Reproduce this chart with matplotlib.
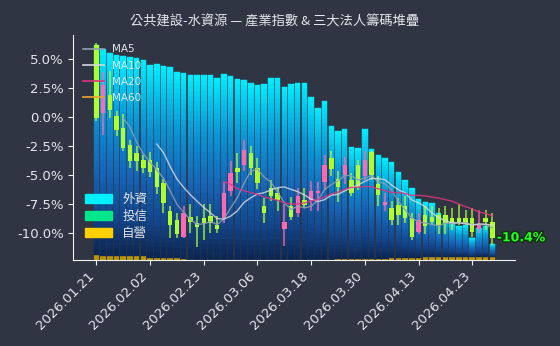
import numpy as np
import pandas as pd
import matplotlib
matplotlib.use("Agg")
import matplotlib.pyplot as plt
from matplotlib.colors import LinearSegmentedColormap
from matplotlib.patches import Patch
from matplotlib.lines import Line2D
import matplotlib.patheffects as pe

# ---- data -------------------------------------------------------------
dates = [
    "2026.01.21", "2026.01.22", "2026.01.23", "2026.01.26", "2026.01.27",
    "2026.01.28", "2026.01.29", "2026.01.30", "2026.02.02", "2026.02.03",
    "2026.02.04", "2026.02.05", "2026.02.06", "2026.02.09", "2026.02.10",
    "2026.02.11", "2026.02.23", "2026.02.24", "2026.02.25", "2026.02.26",
    "2026.03.02", "2026.03.03", "2026.03.04", "2026.03.05", "2026.03.06",
    "2026.03.09", "2026.03.10", "2026.03.11", "2026.03.12", "2026.03.13",
    "2026.03.16", "2026.03.17", "2026.03.18", "2026.03.19", "2026.03.20",
    "2026.03.23", "2026.03.24", "2026.03.25", "2026.03.26", "2026.03.27",
    "2026.03.30", "2026.03.31", "2026.04.01", "2026.04.02", "2026.04.07",
    "2026.04.08", "2026.04.09", "2026.04.10", "2026.04.13", "2026.04.14",
    "2026.04.15", "2026.04.16", "2026.04.17", "2026.04.20", "2026.04.21",
    "2026.04.22", "2026.04.23", "2026.04.24", "2026.04.27", "2026.04.28",
]

# cumulative index change, %
opens = [6.2, 0.4, 1.9, 0.1, -0.9, -2.4, -3.1, -3.7, -3.7, -4.4,
         -5.7, -8.1, -8.9, -10.3, -8.6, -9.1, -8.7, -8.5, -9.3, -8.7,
         -6.4, -4.4, -4.1, -3.1, -4.4, -7.7, -6.1, -6.55, -9.6, -7.7,
         -8.3, -7.1, -7.1, -6.55, -5.55, -3.5, -5.3, -5.0, -5.4, -4.1,
         -5.1, -3.0, -5.8, -7.6, -7.8, -7.6, -7.7, -8.7, -9.9, -8.4,
         -8.6, -8.4, -8.4, -8.7, -8.7, -8.7, -8.7, -9.6, -8.7, -9.0]
highs = [6.4, 3.9, 4.0, 0.5, 0.3, -2.0, -2.5, -3.3, -3.0, -3.9,
         -5.3, -7.7, -8.3, -7.7, -7.5, -8.5, -7.5, -7.5, -8.5, -5.6,
         -3.8, -3.1, -2.0, -2.5, -3.5, -7.0, -5.4, -6.1, -7.5, -6.9,
         -6.1, -6.1, -5.5, -5.6, -3.3, -2.9, -4.6, -3.4, -4.8, -3.7,
         -2.9, -2.9, -5.1, -6.5, -7.2, -7.0, -6.8, -8.3, -8.3, -7.7,
         -7.7, -7.8, -7.7, -7.8, -7.5, -8.0, -7.8, -8.0, -8.0, -8.3]
lows = [-0.3, -1.5, -0.1, -1.6, -2.9, -4.4, -4.6, -4.8, -5.2, -6.6,
        -8.3, -10.4, -10.4, -10.4, -10.0, -11.2, -10.6, -10.0, -10.0, -9.1,
        -6.8, -5.7, -4.6, -5.0, -6.2, -9.1, -7.2, -8.1, -11.1, -8.9,
        -8.6, -7.8, -8.1, -8.1, -6.3, -5.1, -7.3, -5.8, -6.8, -6.3,
        -5.4, -5.4, -7.7, -8.1, -9.3, -9.3, -9.1, -10.6, -10.1, -10.1,
        -9.3, -10.1, -10.1, -9.7, -9.3, -9.3, -10.3, -10.0, -9.7, -11.0]
closes = [-0.1, 2.8, 0.6, -1.1, -2.7, -3.8, -3.8, -4.4, -4.7, -6.0,
          -7.4, -9.3, -10.1, -8.3, -9.0, -9.5, -9.1, -9.1, -9.6, -6.55,
          -4.8, -4.7, -2.8, -4.4, -5.7, -8.3, -6.8, -7.1, -9.0, -8.6,
          -6.8, -7.6, -6.4, -6.4, -4.1, -4.5, -6.0, -4.1, -6.5, -6.0,
          -3.7, -5.0, -6.7, -7.3, -8.85, -8.4, -8.7, -10.3, -8.85, -9.4,
          -9.0, -9.3, -9.1, -9.1, -9.0, -9.1, -9.9, -9.3, -9.0, -10.4]

# institutional holdings stack (arbitrary lots)
foreign = [2100, 2070, 2035, 2015, 2005, 1990, 1980, 1965, 1930, 1935,
           1915, 1910, 1855, 1855, 1842, 1842, 1847, 1842, 1817, 1852,
           1832, 1807, 1797, 1762, 1747, 1757, 1820, 1820, 1730, 1757,
           1770, 1770, 1630, 1520, 1587, 1340, 1280, 1300, 1120, 1107,
           1300, 1100, 1040, 1010, 960, 863, 780, 700, 590, 550,
           537, 440, 410, 350, 310, 320, 190, 290, 310, 130]
trust = [0] * 60
dealer = [50, 35, 35, 35, 35, 35, 35, 35, 20, 20,
          20, 20, 20, 10, 3, 3, 3, 3, 3, 3,
          3, 3, 3, 3, 3, 3, 3, 3, 3, 3,
          3, 3, 3, 3, 3, 3, 10, 10, 10, 10,
          10, 10, 10, 10, 20, 20, 20, 20, 20, 30,
          30, 30, 30, 30, 30, 30, 30, 30, 30, 30]

ma_windows = [5, 10, 20, 60]
ma_colors = ["#8e9eb0", "#d4d8de", "#e0337f", "#f0a030"]
legend_names = ["外資", "投信", "自營"]
legend_colors = ["#00f0ff", "#00e68a", "#ffd000"]
title = "公共建設-水資源 — 產業指數 & 三大法人籌碼堆疊"

# ---- figure -----------------------------------------------------------
BG = "#2f3542"
TXT = "#e4e6eb"
CJK = ["Noto Sans CJK TC", "DejaVu Sans"]
fig = plt.figure(figsize=(5.6, 3.46), dpi=100, facecolor=BG)
ax = fig.add_axes([0.131, 0.249, 0.789, 0.650])
bar_ax = ax.twinx()
ax.set_zorder(bar_ax.get_zorder() + 1)
ax.patch.set_visible(False)
bar_ax.set_facecolor(BG)

n = len(dates)
x = np.arange(n)
O, H, L, C = map(np.array, (opens, highs, lows, closes))
f, t, d = map(lambda v: np.array(v, float), (foreign, trust, dealer))

# stacked holdings with a vertical gradient on the foreign block
grad = LinearSegmentedColormap.from_list(
    "chips",
    [(0.0, "#0c2550"), (0.18, "#11448a"), (0.42, "#1666b8"),
     (0.68, "#0c94d4"), (0.87, "#03c9ee"), (1.0, "#00eeff")])
bw = 0.82
bar_ax.bar(x, d, width=bw, color="#b89406", linewidth=0)
bar_ax.bar(x, t, bottom=d, width=bw, color=legend_colors[1], linewidth=0)
nseg = 36
for k in range(nseg):
    c = grad((k + 0.5) / nseg)
    bar_ax.bar(x, f / nseg, bottom=d + t + f * k / nseg, width=bw,
               color=c, edgecolor=c, linewidth=0.3)
bar_ax.set_ylim(0, 2250)
bar_ax.set_yticks([])
for s in bar_ax.spines.values():
    s.set_visible(False)

# candlesticks (red-up / green-down palette)
up = C >= O
col = np.where(up, "#ff69b4", "#adff2f")
ax.vlines(x, L, H, colors=col, linewidth=1.2, alpha=0.8, zorder=3)
body = np.maximum(np.abs(C - O), 0.12)
ax.bar(x, body, bottom=np.minimum(O, C), width=0.66, color=col,
       linewidth=0, zorder=4)

# moving averages of the close
cs = pd.Series(C)
for w, c in zip(ma_windows, ma_colors):
    ax.plot(x, cs.rolling(w).mean(), color=c, linewidth=1.0, alpha=0.85,
            zorder=5)

# last value tag
ax.text(n - 1 + 0.65, C[-1], f"{C[-1]:.1f}%", color="#22ff22",
        fontsize=9, fontweight="bold", va="center", ha="left", zorder=6,
        path_effects=[pe.withStroke(linewidth=2, foreground="#103010")])

# axes styling
ax.set_xlim(-3.43, 62.4)
ax.set_ylim(-12.3, 7.09)
yt = [5.0, 2.5, 0.0, -2.5, -5.0, -7.5, -10.0]
ax.set_yticks(yt)
ax.set_yticklabels([f"{v:.1f}%" for v in yt])
ax.set_xticks(x[::8])
ax.set_xticklabels(dates[::8], rotation=45, ha="right")
ax.tick_params(colors="#f0f0f0", labelcolor=TXT, labelsize=9.5)
for side in ("top", "right"):
    ax.spines[side].set_visible(False)
for side in ("left", "bottom"):
    ax.spines[side].set_color("#f0f0f0")

# legends
ma_handles = [Line2D([], [], color=c, linewidth=1.2) for c in ma_colors]
leg1 = ax.legend(ma_handles, [f"MA{w}" for w in ma_windows],
                 loc="upper left", frameon=False, fontsize=7.5,
                 labelcolor=TXT, labelspacing=0.6)
ax.add_artist(leg1)
chip_handles = [Patch(color=c) for c in legend_colors]
ax.legend(chip_handles, legend_names, loc="lower left",
          bbox_to_anchor=(0.0, 0.04), frameon=False,
          prop={"family": CJK, "size": 9}, labelcolor=TXT,
          labelspacing=0.3, handlelength=2.2)

fig.text(0.49, 0.936, title, ha="center", va="center", color=TXT,
         fontsize=9.5, family=CJK)

fig.savefig("out.png", dpi=100, facecolor=BG)
